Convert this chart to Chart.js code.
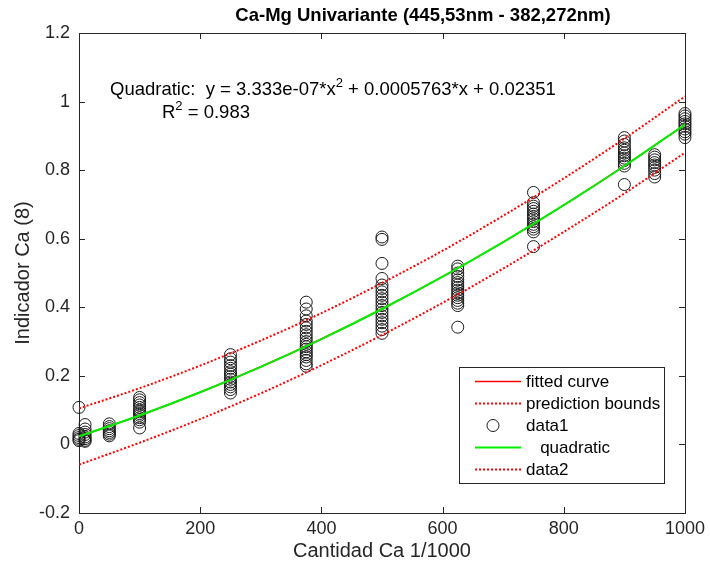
<!DOCTYPE html>
<html>
<head>
<meta charset="utf-8">
<title>Ca-Mg Univariante</title>
<script src="https://cdn.jsdelivr.net/npm/chart.js@4.4.1/dist/chart.umd.min.js"></script>
<style>
html, body { margin: 0; padding: 0; background: #fff; }
</style>
</head>
<body>
<canvas id="chart" width="710" height="572"></canvas>
<script>
// Calibration samples: concentration (1/1000) and the Ca indicator read at each one
const sample_levels = [0, 10, 50, 100, 250, 375, 500, 625, 750, 900, 950, 1000];
const sample_values = [
	[0.108, 0.032, 0.026, 0.020, 0.015, 0.011],
	[0.058, 0.045, 0.036, 0.029, 0.022, 0.017, 0.012, 0.009],
	[0.060, 0.052, 0.046, 0.040, 0.035, 0.030, 0.025],
	[0.137, 0.130, 0.122, 0.115, 0.108, 0.100, 0.095, 0.090, 0.085, 0.078, 0.072, 0.065, 0.048],
	[0.262, 0.250, 0.240, 0.230, 0.222, 0.212, 0.205, 0.198, 0.190, 0.182, 0.175, 0.168, 0.160, 0.150],
	[0.415, 0.395, 0.375, 0.360, 0.350, 0.340, 0.330, 0.320, 0.310, 0.300, 0.292, 0.285, 0.278, 0.270, 0.262, 0.255, 0.245, 0.235, 0.228],
	[0.605, 0.598, 0.528, 0.484, 0.465, 0.455, 0.445, 0.435, 0.425, 0.415, 0.405, 0.395, 0.385, 0.375, 0.365, 0.355, 0.345, 0.335, 0.324],
	[0.520, 0.512, 0.500, 0.490, 0.480, 0.472, 0.465, 0.458, 0.450, 0.442, 0.435, 0.428, 0.420, 0.412, 0.405, 0.342],
	[0.735, 0.705, 0.695, 0.688, 0.680, 0.672, 0.665, 0.658, 0.650, 0.642, 0.635, 0.628, 0.620, 0.577],
	[0.895, 0.885, 0.875, 0.865, 0.858, 0.850, 0.842, 0.835, 0.828, 0.820, 0.812, 0.758],
	[0.845, 0.838, 0.830, 0.822, 0.815, 0.808, 0.800, 0.790, 0.780],
	[0.965, 0.958, 0.950, 0.942, 0.935, 0.928, 0.920, 0.912, 0.905, 0.895]
];

// Quadratic fit and its prediction bounds
const fit_coef = [3.333e-07, 0.0005763, 0.02351];
const r_squared = 0.983;
const fit_x = [0, 100, 200, 300, 400, 500, 600, 700, 800, 900, 1000];
const fit_y = [0.0235, 0.0845, 0.1521, 0.2264, 0.3074, 0.3950, 0.4893, 0.5903, 0.6979, 0.8122, 0.9331];
const upper_y = [0.105, 0.164, 0.230, 0.303, 0.383, 0.471, 0.565, 0.667, 0.776, 0.892, 1.015];
const lower_y = [-0.059, 0.005, 0.074, 0.149, 0.231, 0.319, 0.413, 0.513, 0.620, 0.732, 0.851];

const x_ticks = [0, 200, 400, 600, 800, 1000];
const y_ticks = [-0.2, 0, 0.2, 0.4, 0.6, 0.8, 1, 1.2];

const chart_title = 'Ca-Mg Univariante (445,53nm - 382,272nm)';

const axis_color = '#262626';
const font_family = '"Liberation Sans", Arial, Helvetica, sans-serif';

Chart.defaults.font.family = font_family;
Chart.defaults.color = axis_color;

const points = [];
sample_levels.forEach((level, i) => {
	sample_values[i].forEach(v => points.push({x: level, y: v}));
});

const xy = (xs, ys) => xs.map((x, i) => ({x: x, y: ys[i]}));

const line_style = (color, dashed) => ({
	showLine: true,
	fill: false,
	pointRadius: 0,
	pointHoverRadius: 0,
	borderColor: color,
	borderWidth: dashed ? 2 : 1.5,
	borderDash: dashed ? [2, 2] : [],
	cubicInterpolationMode: 'monotone'
});

// Box round the axes, with the ticks pointing inwards on all four sides
const axes_box = {
	id: 'axes_box',
	beforeDatasetsDraw(chart) {
		const {ctx, chartArea: a, scales} = chart;
		const len = 6;
		ctx.save();
		ctx.strokeStyle = axis_color;
		ctx.lineWidth = 1;
		ctx.strokeRect(Math.round(a.left) + 0.5, Math.round(a.top) + 0.5,
			Math.round(a.right - a.left), Math.round(a.bottom - a.top));
		ctx.beginPath();
		scales.x.ticks.forEach(t => {
			const px = Math.round(scales.x.getPixelForValue(t.value)) + 0.5;
			ctx.moveTo(px, a.bottom); ctx.lineTo(px, a.bottom - len);
			ctx.moveTo(px, a.top); ctx.lineTo(px, a.top + len);
		});
		scales.y.ticks.forEach(t => {
			const py = Math.round(scales.y.getPixelForValue(t.value)) + 0.5;
			ctx.moveTo(a.left, py); ctx.lineTo(a.left + len, py);
			ctx.moveTo(a.right, py); ctx.lineTo(a.right - len, py);
		});
		ctx.stroke();
		ctx.restore();
	}
};

// Bold title above the plot, sitting a little right of centre
const plot_title = {
	id: 'plot_title',
	afterDraw(chart) {
		const {ctx, chartArea: a} = chart;
		ctx.save();
		ctx.font = `bold 18.5px ${font_family}`;
		ctx.fillStyle = '#000';
		ctx.textAlign = 'center';
		ctx.textBaseline = 'middle';
		ctx.fillText(chart_title, (a.left + a.right) / 2 + 41, a.top - 17);
		ctx.restore();
	}
};

// Draws text pieces in a row, the ones flagged sup raised and smaller
function drawRich (ctx, parts, x, y, size) {
	parts.forEach(p => {
		if (p.sup) {
			ctx.font = `${Math.round(size * 0.72)}px ${font_family}`;
			ctx.fillText(p.text, x, y - size * 0.42);
		} else {
			ctx.font = `${size}px ${font_family}`;
			ctx.fillText(p.text, x, y);
		}
		x += ctx.measureText(p.text).width;
	});
}

// Fit equation written inside the plot
const fit_note = {
	id: 'fit_note',
	afterDraw(chart) {
		const {ctx, chartArea: a} = chart;
		ctx.save();
		ctx.fillStyle = '#000';
		ctx.textBaseline = 'alphabetic';
		ctx.textAlign = 'left';
		drawRich(ctx, [
			{text: `Quadratic:  y = ${fit_coef[0].toExponential(3).replace('e-7', 'e-07')}*x`},
			{text: '2', sup: true},
			{text: ` + ${fit_coef[1]}*x + ${fit_coef[2]}`}
		], a.left + 31, a.top + 62, 18.5);
		drawRich(ctx, [
			{text: 'R'},
			{text: '2', sup: true},
			{text: ` = ${r_squared}`}
		], a.left + 83, a.top + 85, 18.5);
		ctx.restore();
	}
};

// Legend box in the lower right corner of the plot
const plot_legend = {
	id: 'plot_legend',
	afterDraw(chart) {
		const {ctx, chartArea: a} = chart;
		const w = 205, h = 116;
		const left = a.right - 21 - w, top = a.bottom - 30 - h;
		ctx.save();
		ctx.fillStyle = '#fff';
		ctx.fillRect(left, top, w, h);
		ctx.strokeStyle = axis_color;
		ctx.lineWidth = 1;
		ctx.strokeRect(Math.round(left) + 0.5, Math.round(top) + 0.5, w, h);
		ctx.font = `17px ${font_family}`;
		ctx.textBaseline = 'middle';
		ctx.fillStyle = '#000';
		chart.data.datasets.forEach((ds, i) => {
			const y = Math.round(top + 14 + i * 22) + 0.5;
			if (ds.showLine) {
				ctx.strokeStyle = ds.borderColor;
				ctx.lineWidth = ds.borderWidth;
				ctx.setLineDash(ds.borderDash);
				ctx.beginPath();
				ctx.moveTo(left + 16, y);
				ctx.lineTo(left + 62, y);
				ctx.stroke();
				ctx.setLineDash([]);
			} else {
				ctx.strokeStyle = ds.borderColor;
				ctx.lineWidth = 1;
				ctx.beginPath();
				ctx.arc(left + 34, y, 6, 0, Math.PI * 2);
				ctx.stroke();
			}
			ctx.fillText(ds.label, left + 67, y + 1);
		});
		ctx.restore();
	}
};

new Chart(document.getElementById('chart'), {
	type: 'scatter',
	data: {
		datasets: [
			Object.assign({label: 'fitted curve', data: xy(fit_x, fit_y), order: 4}, line_style('#ff0000', false)),
			Object.assign({label: 'prediction bounds', data: xy(fit_x, upper_y), order: 2}, line_style('#ff0000', true)),
			{
				label: 'data1',
				data: points,
				showLine: false,
				pointStyle: 'circle',
				pointRadius: 6,
				pointHoverRadius: 6,
				pointBorderWidth: 1,
				borderColor: '#1a1a1a',
				backgroundColor: 'rgba(0,0,0,0)',
				clip: false,
				order: 5
			},
			Object.assign({label: '   quadratic', data: xy(fit_x, fit_y), order: 1}, line_style('#00f000', false), {borderWidth: 2}),
			Object.assign({label: 'data2', data: xy(fit_x, lower_y), order: 3}, line_style('#ff0000', true))
		]
	},
	options: {
		responsive: false,
		animation: false,
		events: [],
		layout: {padding: {left: 0, right: 24, top: 33, bottom: 0}},
		plugins: {
			legend: {display: false},
			tooltip: {enabled: false},
			title: {display: false}
		},
		scales: {
			x: {
				type: 'linear',
				min: 0,
				max: 1000,
				afterBuildTicks: axis => { axis.ticks = x_ticks.map(v => ({value: v})); },
				afterFit: axis => { axis.height = 59; },
				grid: {display: false, drawTicks: false},
				border: {display: false},
				ticks: {font: {size: 18}, padding: 5, maxRotation: 0, callback: v => String(v)},
				title: {display: true, text: 'Cantidad Ca 1/1000', font: {size: 20}, padding: {top: 0, bottom: 9}}
			},
			y: {
				type: 'linear',
				min: -0.2,
				max: 1.2,
				afterBuildTicks: axis => { axis.ticks = y_ticks.map(v => ({value: v})); },
				afterFit: axis => { axis.width = 79; },
				grid: {display: false, drawTicks: false},
				border: {display: false},
				ticks: {font: {size: 18}, padding: 9, callback: v => String(Number(v.toFixed(1)))},
				title: {display: true, text: 'Indicador Ca (8)', font: {size: 20}, padding: {top: 11, bottom: 0}}
			}
		}
	},
	plugins: [axes_box, plot_title, fit_note, plot_legend]
});
</script>
</body>
</html>
